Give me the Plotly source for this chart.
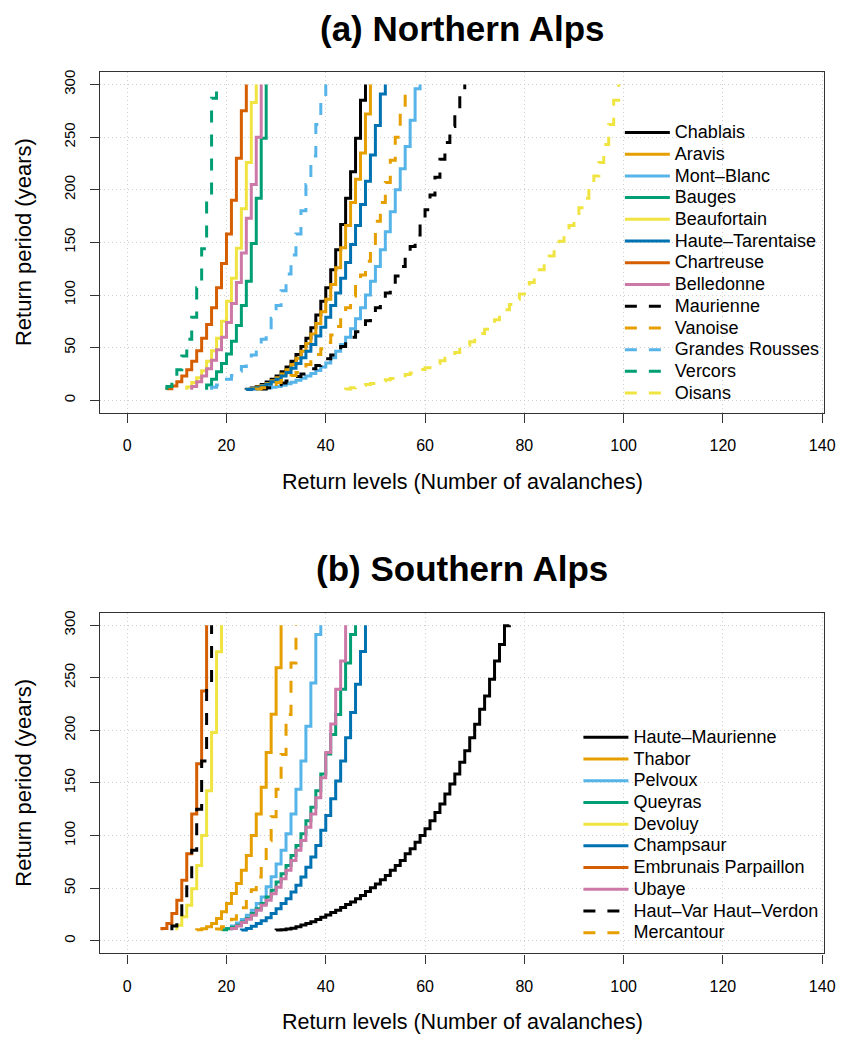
import plotly.graph_objects as go

# ---------------- data ----------------
T_START = 10     # first return period (years)
T_END = 300      # last return period (years)

x_ticks = [0, 20, 40, 60, 80, 100, 120, 140]
y_ticks = [0, 50, 100, 150, 200, 250, 300]

# Northern Alps: level at T=10 and the return periods at which the level rises by one
north_names = ["Chablais", "Aravis", "Mont\u2013Blanc", "Bauges", "Beaufortain",
               "Haute\u2013Tarentaise", "Chartreuse", "Belledonne", "Maurienne",
               "Vanoise", "Grandes Rousses", "Vercors", "Oisans"]
north_start = [24, 24, 26, 16, 12, 24, 8, 13, 27, 26, 17, 8, 44]

chablais = [10.4, 11.7, 13.2, 15, 17.4, 20, 23, 27, 31.5, 37, 43.5, 51, 59, 69, 81, 94,
            107, 124, 143, 167, 192, 217, 249, 285]
aravis = [10.3, 11.2, 12.5, 14, 16, 18.5, 21.5, 25, 29, 34, 40, 46.5, 54, 63, 73, 84, 96,
          110, 126, 145, 166, 188, 210, 235, 272]
mont_blanc = [10.5, 11, 11.6, 12.3, 13.2, 14.3, 15.6, 17.2, 19, 21, 23, 25.5, 28.3, 31.5,
              35.5, 40.5, 46.5, 53, 60, 68, 77.5, 88, 100, 113, 127, 143, 160, 179, 200,
              220, 241, 266, 296]
bauges = [14.5, 20, 27, 35, 44, 56, 71, 90, 113, 149, 192, 249]
beaufortain = [12.6, 17, 21.5, 28, 37, 47, 59, 75, 94, 116, 144.5, 182, 226, 283]
haute_tarentaise = [10.2, 10.8, 12, 13.5, 15.3, 17.5, 20, 23, 26.5, 30.5, 35, 40.5, 46.5,
                    53, 61, 69.5, 79, 90, 102, 116, 131, 148, 166, 186, 208, 233, 261, 291]
chartreuse = [11, 13.5, 17.5, 23, 29, 37, 47, 59, 72, 88, 107, 130, 158, 190, 230, 275]
belledonne = [13, 17.5, 23, 30, 38, 48, 60, 74, 92, 112, 140, 173, 205, 250]
maurienne = [10.8, 12, 13.3, 14.8, 16.5, 18.3, 20.3, 22.5, 25, 27.5, 30, 33, 36, 39.5, 43,
             47, 51, 55.5, 60, 65, 70, 75.5, 81.5, 88, 95, 102, 110, 118, 127, 136, 146,
             157, 168, 181, 195, 212, 229, 245, 260, 277, 294]
vanoise = [10.8, 12, 13.4, 15, 16.8, 18.8, 21, 23.5, 26.5, 30, 34, 38.5, 43.5, 49, 55, 62,
           70, 78.5, 88, 99, 111, 119, 132, 145, 170, 188, 207, 228, 250, 276]
grandes_rousses = [12.3, 14.5, 17, 20, 23.5, 27.5, 32, 37, 43, 50, 58, 67, 78, 90, 104,
                   120, 138, 158, 180, 205, 232, 262, 289]
vercors = [13, 19, 29, 42, 58, 79, 107, 144, 191, 287]
oisans = [10.8, 11.8, 13, 14, 15, 16, 17, 18.2, 19.4, 20.6, 21.8, 23.2, 24.6, 26, 27.6,
          29.3, 31, 33, 35, 37.5, 40, 42.5, 45.5, 48.5, 52, 55.5, 59.5, 63.5, 67.5, 72,
          76.5, 81, 86, 91, 96, 101, 106, 112, 118, 124, 130, 137, 144, 151, 158, 166,
          174, 183, 192, 202, 213, 226, 243, 262, 285]
north_breaks = [chablais, aravis, mont_blanc, bauges, beaufortain, haute_tarentaise,
                chartreuse, belledonne, maurienne, vanoise, grandes_rousses, vercors, oisans]

# Southern Alps
south_names = ["Haute\u2013Maurienne", "Thabor", "Pelvoux", "Queyras", "Devoluy",
               "Champsaur", "Embrunais Parpaillon", "Ubaye",
               "Haut\u2013Var Haut\u2013Verdon", "Mercantour"]
south_start = [30, 14, 20, 19, 10, 23, 7, 21, 9, 18]

haute_maurienne = [10.2, 10.6, 11.2, 12, 13.3, 15, 16.5, 18.2, 20.3, 22.5, 24.6, 26.9, 29,
                   31.6, 34.5, 37, 40, 43.2, 47, 50.5, 54, 58, 62, 67, 71.6, 76.4, 82.7,
                   87.5, 93.8, 100, 106.4, 114, 122, 130, 139.6, 149, 158.5, 169.6, 180.6,
                   193, 205.9, 220, 232.7, 248.5, 265.9, 281.7, 299.5]
thabor = [10.5, 11.5, 13.3, 16.5, 21.2, 27.6, 35.5, 45, 54.4, 67, 81, 100, 120.6, 146,
          179, 215.4, 259.6]
pelvoux = [11.7, 14.2, 17, 20.2, 24.3, 29, 35.4, 41.7, 51.5, 61, 73, 86, 101.7, 120.6,
           144, 171, 204, 245, 291]
queyras = [10.5, 11.4, 12.8, 14.9, 18, 21.2, 25.9, 30.6, 35.4, 41.7, 48, 56, 63.8, 71.6,
           81, 90.6, 101.7, 114, 127, 142.7, 158.5, 177.5, 196, 215, 239, 264, 291]
devoluy = [14.9, 22.8, 33.8, 49.6, 71.6, 100, 142.7, 198, 274.7]
champsaur = [10.3, 11.7, 13.9, 16.4, 19, 22, 25.9, 30.6, 35.4, 40, 46.4, 52.8, 60.6, 70,
             79.6, 90.6, 105, 119, 135, 152, 171, 193, 217, 243.8, 275]
embrunais = [11.7, 16.4, 25.9, 38.5, 57.5, 82.7, 120.6, 168.3, 237.5]
ubaye = [11.7, 14.2, 17.4, 20.5, 24.3, 29, 33.8, 38.5, 44.8, 51, 59, 67, 76.4, 86, 95.4,
         108, 120.6, 136, 155, 179, 206, 239, 266]
haut_var = [14, 22, 35, 54, 86, 125, 171, 244]
mercantour = [11.3, 13.5, 16.5, 20.5, 25.5, 31.5, 39, 48.5, 60.6, 76, 95, 118, 144, 177,
              215, 264]
south_breaks = [haute_maurienne, thabor, pelvoux, queyras, devoluy, champsaur, embrunais,
                ubaye, haut_var, mercantour]

# ---------------- styles ----------------
OKABE = ["#000000", "#E69F00", "#56B4E9", "#009E73", "#F0E442", "#0072B2", "#D55E00",
         "#CC79A7"]
north_colors = OKABE + OKABE[:5]
north_dash = ["solid"] * 8 + ["12px,12px"] * 5
south_colors = OKABE + OKABE[:2]
south_dash = ["solid"] * 8 + ["12px,12px"] * 2

FONT = "Liberation Sans, Arial, Helvetica, sans-serif"
W, H = 848, 1040
PX_L, PX_R = 101.7, 835.0
TOP_PANEL = (70.0, 411.7)
BOT_PANEL = (611.7, 953.3)


def step_xy(start, breaks):
    xs = [start + i for i in range(len(breaks) + 1)] + [start + len(breaks)]
    ys = [T_START] + list(breaks) + [T_END]
    return xs, ys


fig = go.Figure()

for name, s, br, col, dash in zip(north_names, north_start, north_breaks, north_colors,
                                  north_dash):
    xs, ys = step_xy(s, br)
    fig.add_trace(go.Scatter(x=xs, y=ys, mode="lines", line_shape="vh",
                             line=dict(color=col, width=3, dash=dash),
                             name=f"<span style='font-size:18px'>{name}</span>",
                             xaxis="x", yaxis="y", legend="legend"))

for name, s, br, col, dash in zip(south_names, south_start, south_breaks, south_colors,
                                  south_dash):
    xs, ys = step_xy(s, br)
    fig.add_trace(go.Scatter(x=xs, y=ys, mode="lines", line_shape="vh",
                             line=dict(color=col, width=3, dash=dash),
                             name=f"<span style='font-size:18px'>{name}</span>",
                             xaxis="x2", yaxis="y2", legend="legend2"))


def ydom(panel):
    return [1 - panel[1] / H, 1 - panel[0] / H]


def fx(px):
    return px / W


axis_common = dict(showline=True, mirror=True, linecolor="#333333", linewidth=1.4,
                   ticks="outside", ticklen=9, tickwidth=1.2, tickcolor="#333333",
                   showgrid=True, gridcolor="#CFCFCF", griddash="1px,3px", gridwidth=1,
                   zeroline=False)
xfont = dict(family=FONT, size=16, color="black")
yfont = dict(family=FONT, size=15, color="black")

xdom = [fx(PX_L), fx(PX_R)]
fig.update_layout(
    width=W, height=H, autosize=False,
    margin=dict(l=0, r=0, t=0, b=0),
    paper_bgcolor="white", plot_bgcolor="white",
    font=dict(family=FONT, color="black"),
    xaxis=dict(domain=xdom, range=[-5.4, 140.4], tickvals=x_ticks, anchor="y",
               tickfont=xfont, ticklabelstandoff=9, **axis_common),
    yaxis=dict(domain=ydom(TOP_PANEL), range=[-12, 312], tickvals=y_ticks, anchor="x",
               tickangle=-90, tickfont=yfont, ticklabelstandoff=9, **axis_common),
    xaxis2=dict(domain=xdom, range=[-5.4, 140.4], tickvals=x_ticks, anchor="y2",
                tickfont=xfont, ticklabelstandoff=9, **axis_common),
    yaxis2=dict(domain=ydom(BOT_PANEL), range=[-12, 312], tickvals=y_ticks, anchor="x2",
                tickangle=-90, tickfont=yfont, ticklabelstandoff=9, **axis_common),
    legend=dict(x=fx(628), y=1 - 114.8 / H, xanchor="left", yanchor="top",
                bgcolor="rgba(0,0,0,0)", borderwidth=0, itemwidth=45,
                font=dict(family=FONT, size=14.4, color="black"), tracegroupgap=0),
    legend2=dict(x=fx(586), y=1 - 720.8 / H, xanchor="left", yanchor="top",
                 bgcolor="rgba(0,0,0,0)", borderwidth=0, itemwidth=45,
                 font=dict(family=FONT, size=14.4, color="black"), tracegroupgap=0),
    showlegend=True,
)

xmid = fx((PX_L + PX_R) / 2)
annotations = [
    dict(text="<b>(a) Northern Alps</b>", x=xmid, y=1 - 27 / H, size=35),
    dict(text="<b>(b) Southern Alps</b>", x=xmid, y=1 - 568 / H, size=35),
    dict(text="Return levels (Number of avalanches)", x=xmid, y=1 - 481 / H, size=21.5),
    dict(text="Return levels (Number of avalanches)", x=xmid, y=1 - 1022 / H, size=21.5),
]
for a in annotations:
    fig.add_annotation(text=a["text"], x=a["x"], y=a["y"], xref="paper", yref="paper",
                       xanchor="center", yanchor="middle", showarrow=False,
                       font=dict(family=FONT, size=a["size"], color="black"))
for panel in (TOP_PANEL, BOT_PANEL):
    fig.add_annotation(text="Return period (years)", x=fx(24),
                       y=1 - (panel[0] + panel[1]) / 2 / H, xref="paper", yref="paper",
                       xanchor="center", yanchor="middle", showarrow=False, textangle=-90,
                       font=dict(family=FONT, size=22, color="black"))

fig.write_html("out.html", config={"responsive": False})
